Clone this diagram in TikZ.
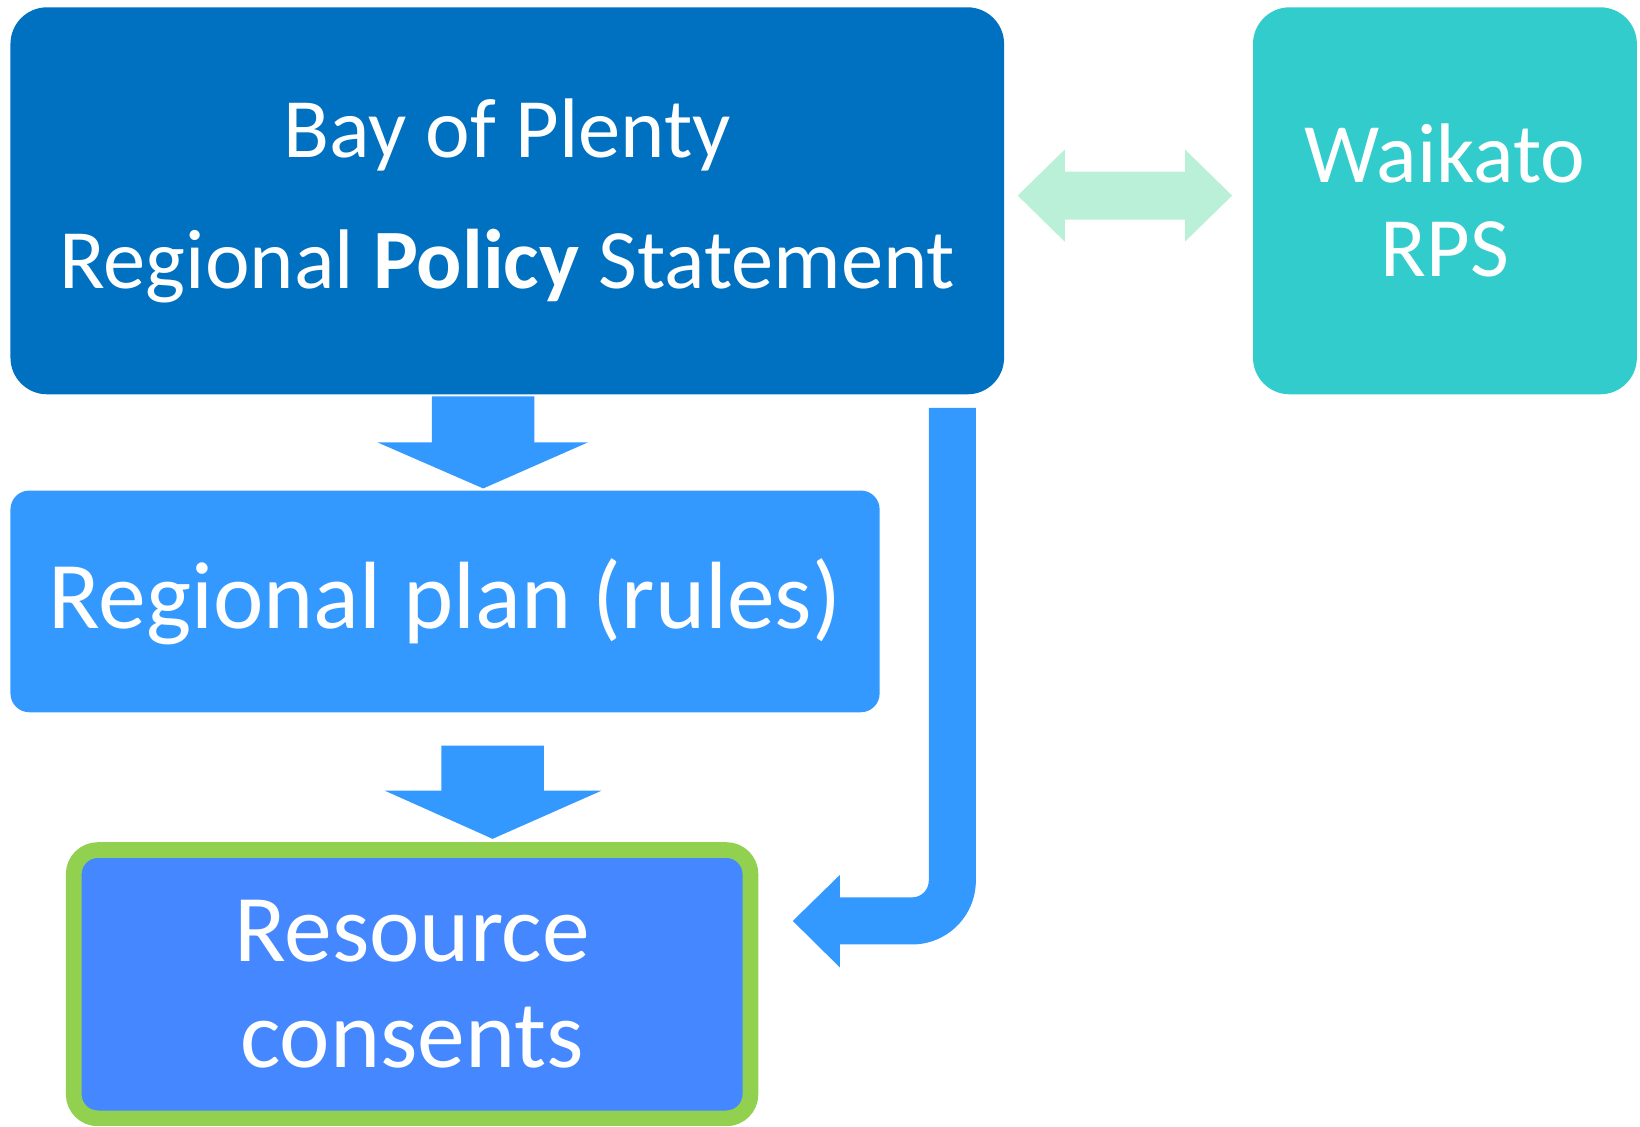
\documentclass[tikz,border=0pt]{standalone}
\usepackage{fontspec}
\setmainfont{Carlito}
\definecolor{bopblue}{HTML}{0070C0}
\definecolor{waikatoteal}{HTML}{33CCCC}
\definecolor{planblue}{HTML}{3399FF}
\definecolor{consentblue}{HTML}{4487FF}
\definecolor{consentgreen}{HTML}{92D050}
\definecolor{linkgreen}{HTML}{B9F0D7}
\begin{document}
\begin{tikzpicture}[
        bigbox/.style={rectangle, rounded corners=0.35cm, text=white, align=center, inner sep=0pt},
        planbox/.style={rectangle, rounded corners=0.18cm, fill=planblue, text=white, align=center, inner sep=0pt},
        consentbox/.style={rectangle, rounded corners=0.23cm, fill=consentblue, draw=consentgreen, line width=0.15cm, text=white, align=center, inner sep=0pt},
        blockarrow/.style={fill=planblue},
        linkarrow/.style={fill=linkgreen},
        ]

        \useasboundingbox (0,0) rectangle (15.68,10.77);

        % Boxes
        \node[bigbox, fill=bopblue, minimum width=9.5cm, minimum height=3.7cm,
              font=\fontsize{23}{35.6}\selectfont] (bop) at (4.85,8.85)
              {Bay of Plenty\\Regional \textbf{Policy} Statement};
        \node[bigbox, fill=waikatoteal, minimum width=3.67cm, minimum height=3.7cm,
              font=\fontsize{23}{25.6}\selectfont] (waikato) at (13.815,8.85)
              {Waikato\\RPS};
        \node[planbox, minimum width=8.31cm, minimum height=2.12cm,
              font=\fontsize{26}{30}\selectfont] (plan) at (4.255,5.02)
              {Regional plan (rules)};
        \node[consentbox, minimum width=6.47cm, minimum height=2.565cm,
              font=\fontsize{26}{28.7}\selectfont] (consent) at (3.94,1.36)
              {Resource\\consents};

        % BOP RPS <-> Waikato RPS
        \fill[linkarrow] (9.73,8.90) -- (10.18,9.34) -- (10.18,9.13) -- (11.33,9.13)
            -- (11.33,9.34) -- (11.78,8.90) -- (11.33,8.46) -- (11.33,8.67)
            -- (10.18,8.67) -- (10.18,8.46) -- cycle;

        % BOP RPS -> Regional plan
        \fill[blockarrow] (4.13,6.98) -- ++(0.98,0) -- ++(0,-0.44) -- ++(0.51,0)
            -- (4.62,6.10) -- (3.61,6.54) -- ++(0.52,0) -- cycle;

        % Regional plan -> Resource consents
        \fill[blockarrow] (4.22,3.64) -- ++(0.98,0) -- ++(0,-0.43) -- ++(0.55,0)
            -- (4.71,2.75) -- (3.68,3.21) -- ++(0.54,0) -- cycle;

        % BOP RPS -> Resource consents
        \fill[blockarrow] (8.88,6.87) -- (9.33,6.87) -- (9.33,2.35) arc (0:-90:0.61)
            -- (8.03,1.74) -- (8.03,1.52) -- (7.58,1.965) -- (8.03,2.405)
            -- (8.03,2.19) -- (8.72,2.19) arc (-90:0:0.16) -- cycle;

    \end{tikzpicture}
\end{document}
